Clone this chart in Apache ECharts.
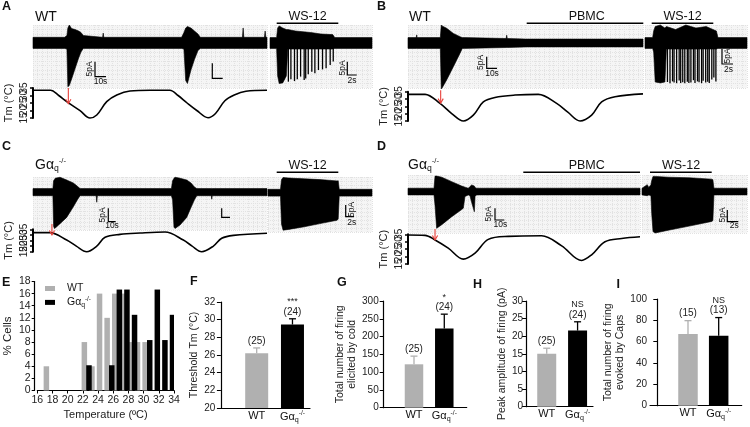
<!DOCTYPE html>
<html><head><meta charset="utf-8">
<script src="https://cdn.jsdelivr.net/npm/echarts@6/dist/echarts.min.js"></script>
<style>html,body{margin:0;padding:0;background:#fff;}#chart{width:750px;height:427px;}</style>
</head><body><div id="chart"></div>
<script>
const FONT = '"Liberation Sans", Arial, Helvetica, sans-serif';

// ================= DATA =================
// Recording traces: time (s), lower / upper envelope of the current (pA)
// Panel A (WT)
const aLeftT  = [0, 27, 29, 29.8, 31, 33, 36, 39, 41, 43, 59.5, 60, 60.5, 127, 129, 130.5, 132, 135, 138, 141, 143, 179, 179.6, 180.2, 197.8, 198.4, 199, 200];
const aLeftLo = [-1.8,-1.8,-2,-14.6,-14.2,-12,-8.5,-5,-3,-1.8,-1.8,-1.8,-1.8,-1.8,-2,-12.5,-13.5,-9,-5.5,-2.5,-1.8,-1.8,-1.8,-1.8,-1.8,-1.8,-1.8,-1.8];
const aLeftHi = [1.9,1.9,2.5,5,6,4.8,4.5,4,3.5,2.5,1.9,3.3,1.9,1.9,3.5,5,5.5,5,4,3,1.9,1.9,5,1.9,1.9,4,1.9,1.9];
const aRightT  = [0, 1.3, 1.5, 1.8, 2.5, 3.2, 3.5, 5, 8, 10, 12.3, 12.7, 20];
const aRightLo = [-1.8,-1.8,-11,-13.5,-13.3,-11,-2,-2,-2,-2,-2,-1.8,-1.8];
const aRightHi = [1.8,1.8,5,5.7,5,4.5,4.5,4,3.5,3,2.8,1.8,1.8];
const aSpikeT   = [3.6,4.1,4.8,5.35,6.0,6.7,7.0,7.5,8.2,8.8,9.5,10.3,11.0,11.8,12.4];
const aSpikeAmp = [-12.9,-12.1,-12.7,-12.1,-11.2,-12.3,-11.8,-10.4,-9.6,-10.1,-9,-8.8,-8.4,-7.3,-6.2];
const aTempT = [0, 15, 22, 28.8, 40.2, 48.7, 54.5, 63, 71.6, 82.9, 100, 117, 124, 131.7, 140, 149.6, 156, 164, 172, 182, 200];
const aTemp  = [33.5, 33.5, 30, 25.9, 19.9, 15, 17, 25.9, 30.3, 33, 33.5, 33.5, 30, 25, 20, 15.2, 18, 26.5, 30.3, 32.8, 33.5];

// Panel B (WT, PBMC)
const bLeftT  = [0, 7, 7.4, 7.8, 27.5, 28.3, 29, 32.9, 38.6, 44.3, 46.2, 48, 83.5, 84, 84.5, 100, 200];
const bLeftLo = [-1.8,-1.8,-1.8,-1.8,-1.8,-15.3,-15,-12.3,-7.9,-3.4,-1.8,-1.8,-1.5,-1.5,-1.5,-1.3,-1.3];
const bLeftHi = [1.8,1.8,2.7,1.8,1.8,6,5.7,4.9,3.2,2.1,1.8,1.8,1.5,2.6,1.5,1.3,1.3];
const bRightT  = [0, 1.5, 1.7, 2.0, 3.0, 3.9, 4.2, 6, 8, 10, 12, 14, 14.3, 20];
const bRightLo = [-1.8,-1.8,-3,-13,-13.3,-13,-2,-2,-2,-2,-2,-2,-1.8,-1.8];
const bRightHi = [1.8,1.8,4,5.5,6,5,5.5,4.5,6,5,5.5,4,1.8,1.8];
const bSpikeT   = [4.4,4.9,5.4,5.7,6.2,6.7,7.0,7.4,7.8,8.3,8.6,9.0,9.5,9.8,10.3,10.6,11.1,11.4,11.9,12.3,12.6,13.1,13.5,13.9];
const bSpikeAmp = [-13,-13.4,-12.8,-13.2,-13.4,-12.5,-13.3,-13.1,-13.4,-12.9,-13.3,-13.2,-12.4,-13.3,-12.8,-13.1,-13.4,-12.6,-13.2,-12.9,-13.3,-12.2,-11.5,-12.8];
const bTempT = [0, 14.5, 27.2, 37.2, 47.1, 55.6, 64.1, 74, 91.1, 110.9, 126.5, 136, 146.4, 156.3, 164.8, 176.2, 200];
const bTemp  = [33.2, 33.2, 27, 20.1, 15, 19, 28, 31.1, 32.7, 33.2, 27, 21, 15, 19, 28, 31.5, 33.5];

// Panel C (Gaq-/-)
const cLeftT  = [0, 17, 17.6, 18.3, 19, 23.1, 28.8, 34.5, 38, 40.2, 54, 54.5, 55, 118.3, 119.3, 120.5, 121.4, 125.7, 131.4, 135.1, 138, 140, 152.4, 152.8, 153.2, 200];
const cLeftLo = [-1.4,-1.4,-13.5,-14.4,-14.2,-12.5,-10,-5.8,-3,-1.4,-1.4,-4,-1.4,-1.4,-3,-13.8,-14.4,-13,-10,-6,-3,-1.4,-1.4,-2.8,-1.4,-1.4];
const cLeftHi = [1.4,1.4,4.5,5,5.5,5.9,4.8,3.6,2.3,1.4,1.4,1.4,1.4,1.4,4.5,5.5,5.9,5.5,4.8,3.6,2,1.4,1.4,1.4,1.4,1.4];
const cRightT  = [0, 2.4, 2.6, 2.9, 4, 7, 10, 13.3, 13.5, 13.7, 20];
const cRightLo = [-1.3,-1.3,-12,-14.3,-14,-13,-11.8,-10.5,-10,-1.3,-1.3];
const cRightHi = [1.3,1.3,5,5.8,5.6,5.3,5,4.5,4.6,1.3,1.3];
const cTempT = [0, 14.5, 28.8, 37, 45.9, 54.5, 61.6, 74.4, 91.5, 112.9, 128.5, 136, 144.2, 154.2, 161.3, 171.3, 200];
const cTemp  = [32, 32, 25.4, 20, 15, 20, 27.9, 30.5, 31.7, 32.6, 25.4, 20, 15, 20, 27, 29.6, 31.5];

// Panel D (Gaq-/-, PBMC)
const dLeftT  = [0, 22.4, 23.3, 24.7, 29.1, 37.7, 46.3, 47.7, 49.1, 52, 53.4, 54.9, 57.2, 57.8, 59, 200];
const dLeftLo = [-1.2,-1.2,-5,-13.3,-12,-9.1,-6.5,-6,-1.8,-1.2,-1.5,-4,-7.3,-1.8,-1.2,-1.2];
const dLeftHi = [1.2,1.2,5.6,5.6,5.2,3.6,2,1.8,1.6,1.2,1.8,2.4,2,1.5,1.2,1.2];
const dRightT  = [0, 1.0, 1.3, 1.7, 1.85, 2.1, 2.5, 5, 9, 13.3, 13.5, 13.7, 20];
const dRightLo = [-1.2,-1.5,-1.2,-1.5,-8,-14.5,-15,-14,-12.5,-10.8,-10.5,-1.2,-1.2];
const dRightHi = [1.2,2.5,1.5,2.5,4,5.5,5.5,5.2,5,4.5,4.3,1.2,1.2];
const dTempT = [0, 14.7, 23.3, 34.7, 47.7, 57.8, 69.2, 86.5, 115.2, 132.5, 149.7, 158.3, 169.8, 184.2, 200];
const dTemp  = [34.5, 34.3, 31.2, 25.7, 18.3, 22.3, 31.6, 33.6, 34, 27.2, 17.4, 21.2, 30, 32.2, 33.3];

// Threshold arrows (time s, from / to temperature °C), panels A-D
const arrowT    = [30.2, 27.8, 16.2, 23.3];
const arrowFrom = [35, 36, 39.7, 38.5];
const arrowTo   = [24.5, 27.2, 29.9, 31.2];

// Temperature axis tick labels (°C)
const tmTicksOdd  = [15, 25, 35];
const tmTicksEven = [20, 30];

// Panel E histogram (bin start °C, % cells)
const histBins = [16,17,18,19,20,21,22,23,24,25,26,27,28,29,30,31,32,33];
const wtPct    = [0,4,0,0,0,0,8,4,16,12,16,16,8,8,8,0,0,0];
const gaqPct   = [0,0,0,0,0,0,4.17,0,0,4.17,16.67,16.67,12.5,0,8.33,16.67,8.33,12.5];

// Panels F-I: WT, Gaq-/-
const groups = ['WT', 'Gαq-/-'];
const fMean = [26.2, 29.45], fSem = [0.6, 0.65], fN = ['(25)', '(24)'], fSig = ['', '***'];
const gMean = [122, 223],   gSem = [23, 40],    gN = ['(25)', '(24)'], gSig = ['', '*'];
const hMean = [15.0, 21.6], hSem = [1.6, 2.5],  hN = ['(25)', '(24)'], hSig = ['', 'NS'];
const iMean = [67.2, 65.6], iSem = [12.5, 17],  iN = ['(15)', '(13)'], iSig = ['', 'NS'];

// ================= BUILD =================
const GRAY = '#b0b0b0', BLACK = '#000000', RED = '#e8403a';
const barColors = [GRAY, BLACK];
const grid = [], xAxis = [], yAxis = [], series = [], graphic = [];
const zip2 = (a, b) => a.map((v, i) => [v, b[i]]);
const zip3 = (a, b, c) => a.map((v, i) => [v, b[i], c[i]]);

function bandRender(params, api) {
  if (params.dataIndexInside !== 0) return null;
  const n = params.dataInsideLength, up = [], dn = [];
  for (let i = 0; i < n; i++) {
    const t = api.value(0, i);
    up.push(api.coord([t, api.value(2, i)]));
    dn.push(api.coord([t, api.value(1, i)]));
  }
  return {type: 'polygon', shape: {points: up.concat(dn.reverse())}, style: {fill: '#000', stroke: '#000', lineWidth: 0.6}};
}
function spikeRender(params, api) {
  const t = api.value(0), a = api.value(1);
  const p0 = api.coord([t, 0]), p1 = api.coord([t, a]);
  return {type: 'line', shape: {x1: p0[0], y1: p0[1], x2: p1[0], y2: p1[1]}, style: {stroke: '#000', lineWidth: 1.3}};
}
function arrowRender(params, api) {
  const t = api.value(0), a = api.coord([t, api.value(1)]), b = api.coord([t, api.value(2)]);
  return {type: 'group', children: [
    {type: 'line', shape: {x1: a[0], y1: a[1], x2: b[0], y2: b[1] - 0.5}, style: {stroke: RED, lineWidth: 1.1}},
    {type: 'polyline', shape: {points: [[b[0] - 2.6, b[1] - 4.5], [b[0], b[1]], [b[0] + 2.6, b[1] - 4.5]]}, style: {stroke: RED, lineWidth: 1.1, fill: null}}
  ]};
}

function traceGrid(box, tMax, tStep, t, lo, hi, spT, spA) {
  const gi = grid.length;
  grid.push({left: box[0], top: box[1], width: box[2] - box[0], height: box[3] - box[1], show: true, backgroundColor: '#f5f5f5', borderWidth: 0});
  xAxis.push({gridIndex: gi, type: 'value', min: 0, max: tMax, interval: tStep, axisLine: {show: false}, axisTick: {show: false}, axisLabel: {show: false},
    splitLine: {show: true, lineStyle: {color: '#e2e2e2', width: 1, type: [1, 1]}}});
  yAxis.push({gridIndex: gi, type: 'value', min: -15, max: 6, interval: 1.5, axisLine: {show: false}, axisTick: {show: false}, axisLabel: {show: false},
    splitLine: {show: true, lineStyle: {color: '#e2e2e2', width: 1, type: [1, 1]}}});
  const xi = xAxis.length - 1, yi = yAxis.length - 1;
  series.push({type: 'custom', xAxisIndex: xi, yAxisIndex: yi, data: zip3(t, lo, hi), encode: {x: 0, y: [1, 2]}, renderItem: bandRender, silent: true, z: 3});
  if (spT) series.push({type: 'custom', xAxisIndex: xi, yAxisIndex: yi, data: zip2(spT, spA), encode: {x: 0, y: 1}, renderItem: spikeRender, silent: true, z: 3});
}

function tempGrid(box, t, T, k) {
  const gi = grid.length;
  grid.push({left: box[0], top: box[1], width: box[2] - box[0], height: box[3] - box[1]});
  xAxis.push({gridIndex: gi, type: 'value', min: 0, max: 200, show: false});
  const lbl = (list) => ({rotate: 90, fontSize: 10, margin: 2, color: '#222', fontFamily: FONT, hideOverlap: false,
    formatter: (v) => list.indexOf(Math.round(v)) >= 0 ? String(Math.round(v)) : ''});
  yAxis.push({gridIndex: gi, type: 'value', position: 'left', min: 15, max: 35, interval: 5, offset: 2,
    axisLine: {show: true, lineStyle: {color: '#000', width: 2}},
    axisTick: {show: true, length: 3, lineStyle: {color: '#000', width: 1.5}},
    axisLabel: lbl(tmTicksOdd), splitLine: {show: false},
    name: 'Tm (°C)', nameLocation: 'middle', nameRotate: 90, nameGap: 17,
    nameTextStyle: {fontSize: 11, color: '#222', fontFamily: FONT}});
  const yi = yAxis.length - 1, xi = xAxis.length - 1;
  // second label layer on the same scale, so that the crowded labels are all drawn
  yAxis.push({gridIndex: gi, type: 'value', position: 'left', min: 15, max: 35, interval: 5, offset: 2,
    axisLine: {show: false}, axisTick: {show: false}, splitLine: {show: false}, axisLabel: lbl(tmTicksEven)});
  series.push({type: 'line', xAxisIndex: xi, yAxisIndex: yi, data: zip2(t, T), smooth: 0.35, showSymbol: false, silent: true,
    lineStyle: {color: '#000', width: 1.6}, clip: false});
  series.push({type: 'custom', xAxisIndex: xi, yAxisIndex: yi, data: [[arrowT[k], arrowFrom[k], arrowTo[k]]],
    encode: {x: 0, y: [1, 2]}, renderItem: arrowRender, clip: false, silent: true, z: 10});
}

// --- trace panels ---
traceGrid([33, 25, 267, 88], 200, 4, aLeftT, aLeftLo, aLeftHi);
traceGrid([270, 25, 372, 88], 20, 1, aRightT, aRightLo, aRightHi, aSpikeT, aSpikeAmp);
tempGrid([33, 88, 267, 118], aTempT, aTemp, 0);
traceGrid([408, 25, 643, 88], 200, 4, bLeftT, bLeftLo, bLeftHi);
traceGrid([645, 25, 747, 88], 20, 1, bRightT, bRightLo, bRightHi, bSpikeT, bSpikeAmp);
tempGrid([408, 91.7, 643, 121], bTempT, bTemp, 1);
traceGrid([33, 177, 267, 230], 200, 4, cLeftT, cLeftLo, cLeftHi);
traceGrid([268, 177, 372, 232], 20, 1, cRightT, cRightLo, cRightHi);
tempGrid([33, 229.3, 267, 251.7], cTempT, cTemp, 2);
traceGrid([408, 175, 640, 233], 200, 4, dLeftT, dLeftLo, dLeftHi);
traceGrid([642, 175, 747, 233], 20, 1, dRightT, dRightLo, dRightHi);
tempGrid([408, 234.3, 640, 264], dTempT, dTemp, 3);

// --- panel E histogram ---
const gaqRichE = (s) => ({a: {fontSize: s, color: '#111', fontFamily: FONT},
  b: {fontSize: s * 0.65, color: '#111', fontFamily: FONT, verticalAlign: 'bottom', padding: [s * 0.55, 0, 0, 0]},
  c: {fontSize: s * 0.6, color: '#111', fontFamily: FONT, verticalAlign: 'top', padding: [0, 0, s * 0.55, 0]}});
const gaqText = '{a|Gα}{b|q}{c|-/-}';
{
  const gi = grid.length;
  grid.push({left: 37.3, top: 281.5, width: 136.7, height: 109});
  xAxis.push({gridIndex: gi, type: 'category', position: 'top', data: histBins.map(String), show: false, boundaryGap: true});
  const xCat = xAxis.length - 1;
  xAxis.push({gridIndex: gi, type: 'value', position: 'bottom', min: 16, max: 34, interval: 2,
    axisLine: {show: true, lineStyle: {color: '#000', width: 1.2}}, axisTick: {show: true, length: 3, lineStyle: {color: '#000'}},
    splitLine: {show: false}, axisLabel: {fontSize: 10.5, margin: 4, color: '#222', fontFamily: FONT},
    name: 'Temperature (ºC)', nameLocation: 'middle', nameGap: 19, nameTextStyle: {fontSize: 11, color: '#222', fontFamily: FONT}});
  yAxis.push({gridIndex: gi, type: 'value', min: 0, max: 18, interval: 2, offset: 2.6,
    axisLine: {show: true, lineStyle: {color: '#000', width: 1.2}}, axisTick: {show: true, length: 3, lineStyle: {color: '#000'}},
    splitLine: {show: false}, axisLabel: {fontSize: 10.5, margin: 4, color: '#222', fontFamily: FONT},
    name: '% Cells', nameLocation: 'middle', nameRotate: 90, nameGap: 21, nameTextStyle: {fontSize: 11.5, color: '#222', fontFamily: FONT}});
  const yi = yAxis.length - 1;
  series.push({name: 'WT', type: 'bar', xAxisIndex: xCat, yAxisIndex: yi, data: wtPct, barWidth: 5.5, barGap: '-16%', itemStyle: {color: GRAY}, silent: true});
  series.push({name: 'Gαq-/-', type: 'bar', xAxisIndex: xCat, yAxisIndex: yi, data: gaqPct, barWidth: 5.5, barGap: '-16%', itemStyle: {color: BLACK}, silent: true});
}

// --- panels F-I ---
function makeErrRender(ns, sig) {
  return function (params, api) {
    const x = api.value(0), m = api.value(1), top = api.value(2), i = params.dataIndex;
    const p0 = api.coord([x, m]), p1 = api.coord([x, top]);
    const c = barColors[i];
    const txt = sig[i] ? '{s|' + sig[i] + '}\n{n|' + ns[i] + '}' : '{n|' + ns[i] + '}';
    return {type: 'group', children: [
      {type: 'line', shape: {x1: p0[0], y1: p0[1], x2: p1[0], y2: p1[1]}, style: {stroke: c, lineWidth: 1.3}},
      {type: 'line', shape: {x1: p1[0] - 3.5, y1: p1[1], x2: p1[0] + 3.5, y2: p1[1]}, style: {stroke: c, lineWidth: 1.3}},
      {type: 'text', x: p1[0], y: p1[1] - 1.5, style: {text: txt, align: 'center', verticalAlign: 'bottom',
        rich: {s: {fontSize: 9, lineHeight: 9, fontFamily: FONT, fill: '#222', align: 'center'},
               n: {fontSize: 10, lineHeight: 11, fontFamily: FONT, fill: '#222', align: 'center'}}}}
    ]};
  };
}
function barPanel(p) {
  const gi = grid.length;
  grid.push({left: p.box[0], top: p.box[1], width: p.box[2] - p.box[0], height: p.box[3] - p.box[1]});
  xAxis.push({gridIndex: gi, type: 'value', position: 'bottom', min: p.xMin, max: p.xMax,
    axisLine: {show: true, lineStyle: {color: '#000', width: 1.2}}, axisTick: {show: false}, splitLine: {show: false},
    axisLabel: {fontSize: 11, margin: 2, color: '#111', fontFamily: FONT, showMinLabel: false, showMaxLabel: false,
      formatter: (v) => Math.abs(v - 1) < 1e-6 ? groups[0] : (Math.abs(v - 2) < 1e-6 ? gaqText : ''),
      rich: gaqRichE(11)}});
  yAxis.push({gridIndex: gi, type: 'value', min: p.yMin, max: p.yMax, interval: p.yInt,
    axisLine: {show: true, lineStyle: {color: '#000', width: 1.2}}, axisTick: {show: true, length: 4, lineStyle: {color: '#000'}},
    splitLine: {show: false}, axisLabel: {fontSize: 10, margin: 3, color: '#222', fontFamily: FONT},
    name: p.name, nameLocation: 'middle', nameRotate: 90, nameGap: p.nameGap,
    nameTextStyle: {fontSize: 10.5, lineHeight: 12, color: '#222', fontFamily: FONT}});
  const xi = xAxis.length - 1, yi = yAxis.length - 1;
  series.push({type: 'bar', xAxisIndex: xi, yAxisIndex: yi, barWidth: p.barWidth, silent: true,
    data: p.mean.map((m, i) => ({value: [i + 1, m], itemStyle: {color: barColors[i]}}))});
  series.push({type: 'custom', xAxisIndex: xi, yAxisIndex: yi, silent: true, z: 5, clip: false,
    data: p.mean.map((m, i) => [i + 1, m, m + p.sem[i]]), encode: {x: 0, y: [1, 2]},
    renderItem: makeErrRender(p.n, p.sig)});
}
barPanel({box: [218.3, 302, 310, 408], xMin: -0.073, xMax: 2.49, yMin: 20, yMax: 32, yInt: 2, barWidth: 23,
  mean: fMean, sem: fSem, n: fN, sig: fSig, name: 'Threshold Tm (°C)', nameGap: 17});
barPanel({box: [381.7, 301, 466.7, 407.7], xMin: -0.066, xMax: 2.74, yMin: 0, yMax: 300, yInt: 50, barWidth: 18.5,
  mean: gMean, sem: gSem, n: gN, sig: gSig, name: 'Total number of firing\nelicited by cold', nameGap: 24});
barPanel({box: [526, 301, 593, 406.7], xMin: 0.328, xMax: 2.5, yMin: 0, yMax: 30, yInt: 5, barWidth: 19,
  mean: hMean, sem: hSem, n: hN, sig: hSig, name: 'Peak amplitude of firing (pA)', nameGap: 17});
barPanel({box: [650, 299, 741.7, 405.7], xMin: -0.238, xMax: 2.75, yMin: 0, yMax: 100, yInt: 20, barWidth: 19.5,
  mean: iMean, sem: iSem, n: iN, sig: iSig, name: 'Total number of firing\nevoked by Caps', nameGap: 18});

// --- annotations (text, labels, scale bars) ---
const gaqRichZ = (s) => ({a: {fontSize: s, fontFamily: FONT, fill: '#111'},
  b: {fontSize: s * 0.62, fontFamily: FONT, fill: '#111', verticalAlign: 'bottom', padding: [s * 0.55, 0, 0, 0]},
  c: {fontSize: s * 0.55, fontFamily: FONT, fill: '#111', verticalAlign: 'top', padding: [0, 0, s * 0.55, 0]}});
function TX(text, x, y, size, o) {
  o = o || {};
  graphic.push({type: 'text', x: x, y: y, rotation: o.rot || 0, silent: true, z: 100,
    style: {text: text, fontSize: size, fontFamily: FONT, fontWeight: o.bold ? 'bold' : 'normal', fill: '#111',
      align: o.align || 'center', verticalAlign: 'middle', rich: o.rich}});
}
function LN(points, w) {
  graphic.push({type: 'polyline', silent: true, z: 100, shape: {points: points}, style: {stroke: '#000', lineWidth: w || 1.2, fill: null}});
}
// panel letters
[['A', 2, 6.5], ['B', 377, 6.5], ['C', 2, 146.5], ['D', 377, 146.5], ['E', 2, 282.5], ['F', 190, 281.5],
 ['G', 337, 283], ['H', 473, 284.5], ['I', 616.5, 284.5]].forEach(l => TX(l[0], l[1], l[2], 12.5, {bold: true, align: 'left'}));
// genotype titles
TX('WT', 35, 17, 14, {align: 'left'});
TX('WT', 409, 17, 14, {align: 'left'});
TX(gaqText, 35, 165, 14, {align: 'left', rich: gaqRichZ(14)});
TX(gaqText, 408, 165, 14, {align: 'left', rich: gaqRichZ(14)});
// drug labels and bars
TX('WS-12', 307.5, 16.5, 12.5); LN([[276.7, 23.3], [338.3, 23.3]], 1.5);
TX('PBMC', 586.7, 16.5, 12.5); LN([[526.7, 23.3], [643.3, 23.3]], 1.5);
TX('WS-12', 682.5, 16.5, 12.5); LN([[651.7, 23.3], [713.3, 23.3]], 1.5);
TX('WS-12', 307.5, 165.5, 12.5); LN([[276.7, 172.3], [338.3, 172.3]], 1.5);
TX('PBMC', 586.7, 165.5, 12.5); LN([[523.3, 172.3], [640, 172.3]], 1.5);
TX('WS-12', 681, 165.5, 12.5); LN([[650, 172.3], [711.7, 172.3]], 1.5);
// scale bars
const R90 = Math.PI / 2;
LN([[95, 61.7], [95, 76.7], [106, 76.7]]); TX('5pA', 90, 69, 8.5, {rot: R90}); TX('10s', 100.5, 82, 8.5);
LN([[212.3, 63.3], [212.3, 78.3], [222.7, 78.3]]);
LN([[347.3, 61.7], [347.3, 75], [356.7, 75]]); TX('5pA', 342.3, 68, 8.5, {rot: R90}); TX('2s', 352, 80.5, 8.5);
LN([[486.7, 56.7], [486.7, 68.3], [497, 68.3]]); TX('5pA', 480.5, 62.5, 8.5, {rot: R90}); TX('10s', 492, 73.5, 8.5);
LN([[722, 49], [722, 64], [733, 64]]); TX('5pA', 727.5, 56, 8.5, {rot: R90}); TX('2s', 728.5, 70, 8.5);
LN([[108.3, 208.3], [108.3, 221.7], [115.7, 221.7]]); TX('5pA', 103, 215, 8.5, {rot: R90}); TX('10s', 112, 225.5, 8.5);
LN([[221.7, 208.3], [221.7, 217.3], [230, 217.3]]);
LN([[345.7, 205], [345.7, 216.7], [354, 216.7]]); TX('5pA', 351.5, 209.5, 8.5, {rot: R90}); TX('2s', 351.7, 222.5, 8.5);
LN([[495, 208.3], [495, 220], [504.3, 220]]); TX('5pA', 488.5, 214, 8.5, {rot: R90}); TX('10s', 500.3, 225, 8.5);
LN([[727.3, 210], [727.3, 221.7], [738.3, 221.7]]); TX('5pA', 722.3, 215, 8.5, {rot: R90}); TX('2s', 734.3, 226, 8.5);

const option = {
  animation: false,
  backgroundColor: '#ffffff',
  textStyle: {fontFamily: FONT},
  legend: {show: true, orient: 'vertical', left: 40, top: 278, itemWidth: 10, itemHeight: 5, itemGap: 2, icon: 'rect',
    selectedMode: false, data: ['WT', 'Gαq-/-'],
    formatter: (name) => name === 'WT' ? 'WT' : gaqText,
    textStyle: {fontSize: 10.5, color: '#222', fontFamily: FONT, padding: [0, 0, 0, 7], rich: gaqRichE(10.5)}},
  grid: grid, xAxis: xAxis, yAxis: yAxis, series: series,
  graphic: {elements: graphic}
};
const chart = echarts.init(document.getElementById('chart'), null, {renderer: 'canvas', width: 750, height: 427});
chart.setOption(option);
</script></body></html>
